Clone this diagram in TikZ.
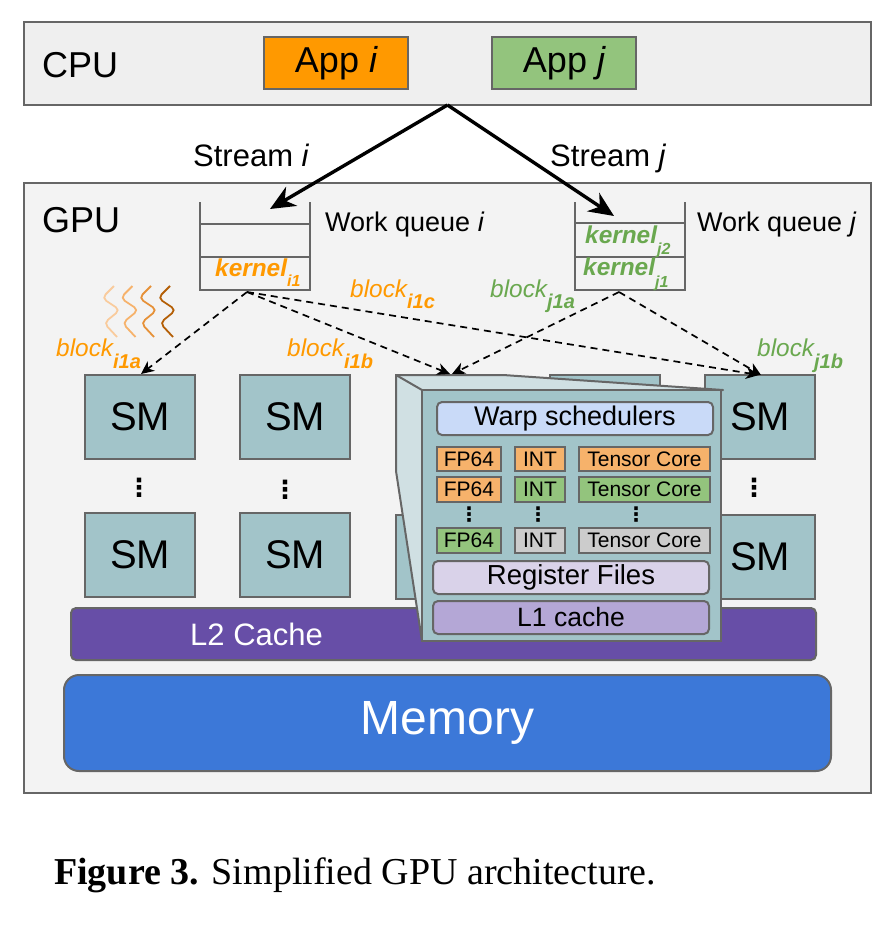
\documentclass[tikz,border=0pt]{standalone}
\usepackage{fontspec}
\setmainfont{Liberation Sans}
\newfontfamily\capfont{Liberation Serif}
\newfontfamily\dotfont{DejaVu Sans}
\usetikzlibrary{arrows.meta}
\definecolor{edge}{HTML}{666666}
\definecolor{appo}{HTML}{FF9900}
\definecolor{appg}{HTML}{93C47D}
\definecolor{lorange}{HTML}{F6B26B}
\definecolor{lgray}{HTML}{CCCCCC}
\definecolor{smfill}{HTML}{A2C4C9}
\definecolor{sidefill}{HTML}{D0E0E3}
\definecolor{gblue}{HTML}{C9DAF8}
\definecolor{regfill}{HTML}{D9D2E9}
\definecolor{l1fill}{HTML}{B4A7D6}
\definecolor{l2fill}{HTML}{674EA7}
\definecolor{memfill}{HTML}{3C78D8}
\definecolor{cpufill}{HTML}{EFEFEF}
\definecolor{gpufill}{HTML}{F3F3F3}
\definecolor{kgreen}{HTML}{6AA84F}
\newcommand{\sz}[1]{\fontsize{#1}{#1}\selectfont}
\newcommand{\bx}[7]{%
  \pgfmathsetmacro{\bxw}{#4-#2}\pgfmathsetmacro{\bxh}{#5-#3}%
  \pgfmathsetmacro{\bxx}{(#2+#4)/2}\pgfmathsetmacro{\bxy}{(#3+#5)/2}%
  \node[#6,minimum width=\bxw pt,minimum height=\bxh pt] (#1) at (\bxx,\bxy) {#7};}
\newcommand{\blk}[4]{%
  \node[anchor=base west,inner sep=0,text=#2] at (#1) {\sz{24.4}\itshape block\raisebox{#3}{\sz{20}\bfseries\itshape #4}};}
\newcommand{\krn}[4]{%
  \node[anchor=base west,inner sep=0,text=#2] at (#1) {\sz{24.4}\bfseries\itshape kernel\raisebox{#3}{\sz{16}\bfseries\itshape #4}};}
\tikzset{
  base/.style={draw=edge,line width=2pt,inner sep=0,outer sep=0},
  smbox/.style={base,fill=smfill,font=\sz{40}},
  round/.style={base,rounded corners=5pt},
  unit/.style={base,font=\sz{21}},
  label/.style={inner sep=0,anchor=base west},
  qline/.style={draw=edge,line width=2pt},
  flow/.style={-{Stealth[length=25pt,width=22pt,inset=8pt]},line width=3.4pt,black},
  dflow/.style={-{Stealth[length=13pt,width=12pt,inset=4pt]},line width=1.7pt,black,dash pattern=on 7pt off 5pt},
  vdots/.style={inner sep=0,font=\dotfont\bfseries\sz{25}},
  wave/.style={line width=1.8pt,rounded corners=5pt}
}
\begin{document}
\begin{tikzpicture}[x=1pt,y=-1pt]
\useasboundingbox (0,0) rectangle (880,931);
\fill[white] (0,0) rectangle (880,931);
% CPU
\bx{cpu}{24}{22}{871}{105}{base,fill=cpufill}{}
\node[label,font=\sz{36}] (cpul) at (42,78) {CPU};
\bx{appi}{264}{37}{408}{89}{base,fill=appo,font=\sz{36}}{App \itshape i}
\bx{appj}{492}{37}{636}{89}{base,fill=appg,font=\sz{36}}{App \itshape j}
% GPU
\bx{gpu}{24}{183}{871}{793}{base,fill=gpufill}{}
\node[label,font=\sz{36}] (gpul) at (42,232) {GPU};
\node[label,font=\sz{31}] (si) at (193,166) {Stream \itshape i};
\node[label,font=\sz{31}] (sj) at (550,166) {Stream \itshape j};
\node[label,font=\sz{27}] (wi) at (325,231) {Work queue \itshape i};
\node[label,font=\sz{27}] (wj) at (697,231) {Work queue \itshape j};
% queues
\bx{qi}{200}{202}{310}{291}{inner sep=0,outer sep=0}{}
\bx{qj}{575}{202}{685}{291}{inner sep=0,outer sep=0}{}
\draw[qline] (200,202) -- (200,290) -- (310,290) -- (310,202);
\draw[qline] (200,224) -- (310,224) (200,257) -- (310,257);
\draw[qline] (575,202) -- (575,290) -- (685,290) -- (685,202);
\draw[qline] (575,223) -- (685,223) (575,257) -- (685,257);
\krn{215,276}{appo}{-10pt}{i1}
\krn{585,243}{kgreen}{-11pt}{j2}
\krn{583,275}{kgreen}{-12pt}{j1}
% CPU to queues
\coordinate (ti) at (270,209);
\coordinate (tj) at (614,216);
\draw[flow] (cpu.south) -- (ti);
\draw[flow] (cpu.south) -- (tj);
% waves
\foreach \dx/\c in {0/F9CB9C,18.5/F6B26B,37/E69138,56/B45F06}{
  \definecolor{wc}{HTML}{\c}
  \draw[wave,draw=wc,xshift=\dx pt] (114,286) -- (102,298) -- (120,310) -- (104,323) -- (117,337);
}
% labels
\blk{56,356}{appo}{-12pt}{i1a}
\blk{287,356}{appo}{-12pt}{i1b}
\blk{350,297}{appo}{-11pt}{i1c}
\blk{490,297}{kgreen}{-11pt}{j1a}
\blk{757,356}{kgreen}{-12pt}{j1b}
% SMs
\bx{sma}{85}{375}{195}{459}{smbox}{SM}
\bx{smb}{240}{375}{350}{459}{smbox}{SM}
\bx{smc}{396}{375}{506}{459}{smbox}{}
\bx{smd}{550}{375}{660}{459}{smbox}{}
\bx{sme}{705}{375}{815}{459}{smbox}{SM}
\bx{smf}{85}{513}{195}{597}{smbox}{SM}
\bx{smg}{240}{513}{350}{597}{smbox}{SM}
\bx{smh}{396}{515}{506}{599}{smbox}{}
\bx{smi}{705}{515}{815}{599}{smbox}{SM}
\node[vdots] (d1) at (139,488) {⋮};
\node[vdots] (d2) at (285,490) {⋮};
\node[vdots] (d3) at (754,488) {⋮};
% L2, memory
\bx{ltwo}{71}{608}{816}{660}{round,fill=l2fill}{}
\node[label,font=\sz{31},text=white] (l2t) at (190,645) {L2 Cache};
\bx{mem}{64}{675}{831}{771}{base,rounded corners=15pt,fill=memfill,text=white,font=\sz{48}}{Memory}
% panel
\filldraw[draw=edge,line width=2pt,fill=sidefill,line join=round]
  (396,375) -- (503,375) -- (723,390) -- (422,390) -- (422,641) -- (396,471) -- cycle;
\draw[edge,line width=2pt] (396,375) -- (422,390);
\bx{panel}{422}{390}{721}{641}{base,fill=smfill}{}
\bx{warp}{437}{402}{713}{435}{round,fill=gblue,font=\sz{27}}{Warp schedulers}
\bx{fa}{437}{447}{501}{471}{unit,fill=lorange}{FP64}
\bx{ia}{515}{447}{565}{471}{unit,fill=lorange}{INT}
\bx{ta}{579}{447}{710}{471}{unit,fill=lorange}{Tensor Core}
\bx{fb}{437}{477}{501}{502}{unit,fill=lorange}{FP64}
\bx{ib}{515}{477}{565}{502}{unit,fill=appg}{INT}
\bx{tb}{579}{477}{710}{502}{unit,fill=appg}{Tensor Core}
\bx{fc}{437}{528}{501}{553}{unit,fill=appg}{FP64}
\bx{ic}{515}{528}{565}{553}{unit,fill=lgray}{INT}
\bx{tc}{579}{528}{710}{553}{unit,fill=lgray}{Tensor Core}
\node[vdots,font=\dotfont\bfseries\sz{20}] (d4) at (469,515) {⋮};
\node[vdots,font=\dotfont\bfseries\sz{20}] (d5) at (538,515) {⋮};
\node[vdots,font=\dotfont\bfseries\sz{20}] (d6) at (636,515) {⋮};
\bx{reg}{433}{561}{709}{594}{round,fill=regfill,font=\sz{27.5}}{Register Files}
\bx{lone}{433}{601}{709}{634}{round,fill=l1fill,font=\sz{26.5}}{L1 cache}
% dashed
\coordinate (qis) at (247,292);
\coordinate (qjs) at (619,292);
\coordinate (pi) at (450,374);
\coordinate (pj) at (452,374);
\coordinate (ei) at (759,375);
\coordinate (ej) at (761,375);
\draw[dflow] (qis) -- (141,374);
\draw[dflow] (qis) -- (pi);
\draw[dflow] (qis) -- (ei);
\draw[dflow] (qjs) -- (pj);
\draw[dflow] (qjs) -- (ej);
% caption
\node[label,font=\capfont\sz{38}] (cap) at (54,884) {\textbf{Figure 3.} Simplified GPU architecture.};
\end{tikzpicture}
\end{document}
